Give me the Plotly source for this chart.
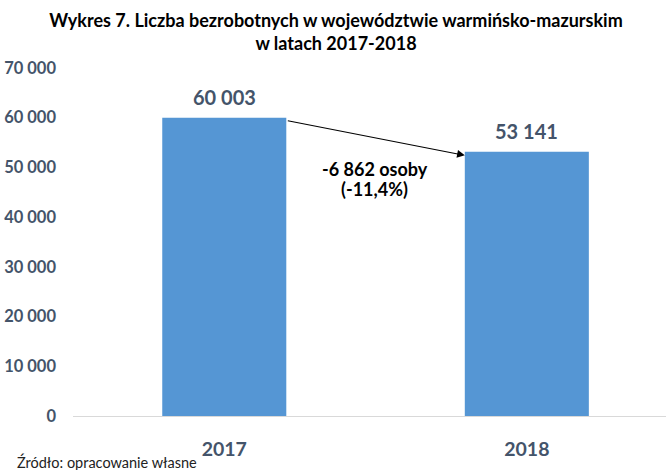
import plotly.graph_objects as go

years = ["2017", "2018"]
unemployed = [60003, 53141]
y_ticks = [0, 10000, 20000, 30000, 40000, 50000, 60000, 70000]
change_lines = ["-6 862 osoby", "(-11,4%)"]
title_text = "Wykres 7. Liczba bezrobotnych w województwie warmińsko-mazurskim<br>w latach 2017-2018"
source_text = "Źródło: opracowanie własne"

FONT = "Lato"
SLATE = "#44546A"
BAR_W = 0.41

L, R, T, B, W, H = 73, 1, 67.5, 54, 667, 470
pw, ph = W - L - R, H - T - B

fig = go.Figure()
fig.add_trace(go.Bar(
    x=years, y=unemployed, width=BAR_W,
    marker=dict(color="#5596d4", line=dict(width=0)),
    hoverinfo="x+y",
))

# data labels (x given as category index)
for i, v in enumerate(unemployed):
    fig.add_annotation(
        x=i, y=v, xref="x", yref="y",
        text=f"{v:,}".replace(",", " "), showarrow=False,
        yanchor="middle", yshift=21,
        font=dict(family=FONT, size=20, color=SLATE, weight="bold"),
    )

# change arrow from bar 1 top-right to bar 2 top-left
fig.add_annotation(
    x=1 - BAR_W / 2, y=unemployed[1] - 710,
    ax=BAR_W / 2, ay=unemployed[0] - 540,
    xref="x", yref="y", axref="x", ayref="y",
    text="", showarrow=True, arrowhead=2, arrowsize=1.4, arrowwidth=1.1,
    arrowcolor="#000000", standoff=0, startstandoff=0,
)
mid = (unemployed[0] + unemployed[1]) / 2
for k, line in enumerate(change_lines):
    fig.add_annotation(
        x=0.5, y=mid, xref="x", yref="y", xshift=-1,
        yshift=-34 - 20 * k,
        text=line, showarrow=False, yanchor="middle",
        font=dict(family=FONT, size=18, color="#000000", weight="bold"),
    )

# source note (pixel position converted to plot-area paper coordinates)
fig.add_annotation(
    x=(15 - L) / pw, y=(H - B - 462) / ph, xref="paper", yref="paper",
    text=source_text, showarrow=False,
    xanchor="left", yanchor="middle",
    font=dict(family=FONT, size=14.5, color="#222222"),
)

fig.update_layout(
    width=W, height=H,
    margin=dict(l=L, r=R, t=T, b=B, autoexpand=False),
    paper_bgcolor="white", plot_bgcolor="white",
    separators=", ",
    showlegend=False,
    title=dict(
        text=title_text, x=336 / W, xanchor="center",
        xref="container", yref="container", y=1 - 27 / H, yanchor="middle",
        font=dict(family=FONT, size=18, color="#000000", weight="bold"),
    ),
    xaxis=dict(
        type="category", range=[-0.5, 1.46], automargin=False,
        showline=True, linecolor="#d9d9d9", linewidth=1,
        showgrid=False, ticks="",
        tickfont=dict(family=FONT, size=19.5, color=SLATE, weight="bold"),
        ticklabelstandoff=16,
    ),
    yaxis=dict(
        range=[0, 70000], tickvals=y_ticks, tickformat=",d", automargin=False,
        showgrid=False, zeroline=False, showline=False, ticks="",
        tickfont=dict(family=FONT, size=16.5, color=SLATE, weight="bold"),
        ticklabelstandoff=16,
    ),
)

fig.write_html("out.html", config={"displayModeBar": False},
               post_script="document.body.style.margin='0px';")
